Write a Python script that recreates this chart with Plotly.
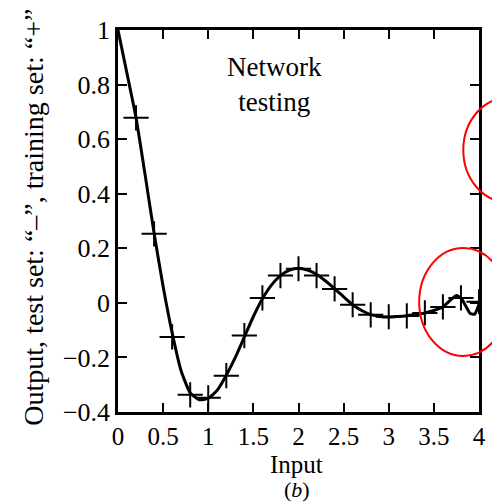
import plotly.graph_objects as go

# Test set (network output curve)
test_x = [0.0, 0.1, 0.2, 0.3, 0.4, 0.5, 0.6, 0.7, 0.8, 0.9, 1.0, 1.1, 1.2, 1.3, 1.4,
          1.5, 1.6, 1.7, 1.8, 1.9, 2.0, 2.1, 2.2, 2.3, 2.4, 2.5, 2.6, 2.7, 2.8, 2.9,
          3.0, 3.1, 3.2, 3.3, 3.4, 3.5, 3.6, 3.7, 3.75, 3.8, 3.85, 3.9, 3.95, 4.0]
test_y = [1.0, 0.84, 0.678, 0.47, 0.255, 0.06, -0.11, -0.25, -0.33, -0.355, -0.35, -0.32,
          -0.265, -0.20, -0.125, -0.05, 0.015, 0.065, 0.10, 0.12, 0.127, 0.12, 0.105,
          0.08, 0.052, 0.022, -0.007, -0.028, -0.043, -0.05, -0.052, -0.05, -0.047,
          -0.042, -0.037, -0.028, -0.015, 0.015, 0.027, 0.018, -0.01, -0.038, -0.042, -0.005]

# Training set ("+" markers)
train_x = [0.2, 0.4, 0.6, 0.8, 1.0, 1.2, 1.4, 1.6, 1.8, 2.0, 2.2, 2.4, 2.6, 2.8, 3.0,
           3.2, 3.4, 3.6, 3.8, 4.0]
train_y = [0.678, 0.253, -0.125, -0.337, -0.348, -0.267, -0.12, 0.018, 0.10, 0.125,
           0.10, 0.051, -0.007, -0.044, -0.051, -0.048, -0.037, -0.015, 0.018, 0.004]

x_ticks = [0, 0.5, 1, 1.5, 2, 2.5, 3, 3.5, 4]
x_labels = ["0", "0.5", "1", "1.5", "2", "2.5", "3", "3.5", "4"]
y_ticks = [-0.4, -0.2, 0, 0.2, 0.4, 0.6, 0.8, 1]
y_labels = ["\u22120.4", "\u22120.2", "0", "0.2", "0.4", "0.6", "0.8", "1"]

FONT = "'Liberation Serif', 'Times New Roman', Times, serif"

fig = go.Figure()
fig.add_trace(go.Scatter(x=test_x, y=test_y, mode="lines",
                         line=dict(color="black", width=3, shape="spline", smoothing=0.5),
                         hoverinfo="skip", showlegend=False))
fig.add_trace(go.Scatter(x=train_x, y=train_y, mode="markers",
                         marker=dict(symbol="cross-thin", size=18, color="black",
                                     line=dict(color="black", width=2)),
                         showlegend=False))

L, R, T, B = 118, 6, 30, 90
W, H = 492, 502
pw, ph = W - L - R, H - T - B

def px(xp):
    return (xp - L) / pw

def py(yp):
    return (H - B - yp) / ph

def note(text, xp, yp, size, angle=0):
    return dict(text=text, x=px(xp), y=py(yp), xref="paper", yref="paper",
                xanchor="center", yanchor="middle", textangle=angle,
                showarrow=False, align="center",
                font=dict(family=FONT, size=size, color="black"))

fig.update_layout(
    width=W, height=H,
    margin=dict(l=L, r=R, t=T, b=B),
    paper_bgcolor="white", plot_bgcolor="white",
    font=dict(family=FONT, size=26, color="black"),
    xaxis=dict(range=[0, 4], tickvals=x_ticks, ticktext=x_labels, ticks="inside",
               ticklen=9, tickwidth=1.5, tickcolor="black", showline=True, linewidth=2.5,
               linecolor="black", mirror="ticks", showgrid=False, zeroline=False,
               tickfont=dict(family=FONT, size=25)),
    yaxis=dict(range=[-0.4, 1], tickvals=y_ticks, ticktext=y_labels, ticks="inside",
               ticklen=9, tickwidth=1.5, tickcolor="black", showline=True, linewidth=2.5,
               linecolor="black", mirror="ticks", showgrid=False, zeroline=False,
               tickfont=dict(family=FONT, size=26)),
    annotations=[
        note("Network<br>testing", 278, 85, 27),
        note("Input", 300, 464, 25),
        note("(<i>b</i>)", 300, 489, 22),
        note("Output, test set: \u201c\u2013\u201d, training set: \u201c+\u201d", 31, 217, 28, -90),
    ],
    shapes=[
        dict(type="circle", xref="paper", yref="paper", x0=px(425), x1=px(515),
             y0=py(356), y1=py(248), line=dict(color="red", width=2)),
        dict(type="circle", xref="paper", yref="paper", x0=px(470), x1=px(560),
             y0=py(202), y1=py(98), line=dict(color="red", width=2)),
    ],
)

fig.write_html("out.html")
